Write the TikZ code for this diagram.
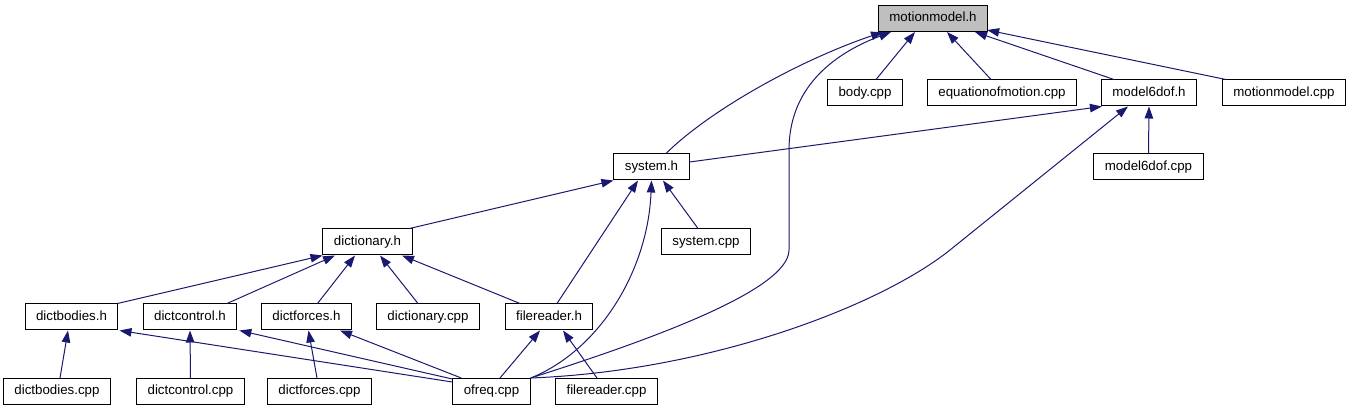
\documentclass[tikz,border=0pt]{standalone}
\usepackage{fontspec}
\setmainfont{Liberation Sans}
\usetikzlibrary{arrows.meta}
\definecolor{kantenblau}{HTML}{191970}
\definecolor{wurzelgrau}{HTML}{BFBFBF}
\newcommand\dateif{\fontsize{13.3}{16}\selectfont}
\newcommand\datei[5][datei]{\node[#1] (#2) at (#3,#4) {#5};}

\begin{document}
\begin{tikzpicture}[x=1pt,y=-1pt]
\useasboundingbox (0,0) rectangle (1352,411);
\tikzset{datei/.style={draw=black,fill=white,line width=1pt,inner xsep=11pt,inner ysep=0pt,
    minimum height=26pt,text height=10pt,text depth=3pt,font=\dateif,text=black},
  wurzel/.style={datei,fill=wurzelgrau},
  kante/.style={draw=kantenblau,line width=1pt,{Triangle[length=12pt,width=8.5pt]}-}}

% ---- Dateien, Zeile für Zeile von oben ---------------------------------------
\datei[wurzel]{mm}{933}{18.5}{motionmodel.h}
\datei{body}{865}{93}{body.cpp}
\datei{eqm}{1002}{93}{equationofmotion.cpp}
\datei{msix}{1149}{93}{model6dof.h}
\datei{mmcpp}{1284}{93}{motionmodel.cpp}
\datei{sys}{651.5}{167}{system.h}
\datei{msixcpp}{1148.5}{167}{model6dof.cpp}
\datei{dict}{367.5}{242}{dictionary.h}
\datei{syscpp}{706}{242}{system.cpp}
\datei{dbh}{71.5}{317}{dictbodies.h}
\datei{dch}{190}{317}{dictcontrol.h}
\datei{dfh}{306.5}{317}{dictforces.h}
\datei{dictcpp}{428}{317}{dictionary.cpp}
\datei{frh}{549}{317}{filereader.h}
\datei{dbcpp}{57}{391.5}{dictbodies.cpp}
\datei{dccpp}{190.5}{391.5}{dictcontrol.cpp}
\datei{dfcpp}{319.5}{391.5}{dictforces.cpp}
\datei{ofreq}{491.5}{391.5}{ofreq.cpp}
\datei{frcpp}{606.5}{391.5}{filereader.cpp}

% ---- Kanten zu motionmodel.h -------------------------------------------------
\draw[kante] ([xshift=-50pt]mm.south) .. controls (800,60) and (710,110) .. ([xshift=14.5pt]sys.north);
\draw[kante] ([xshift=-42pt]mm.south) .. controls (830,55) and (789,90) .. (789,150) -- (789,250)
  .. controls (789,290) and (650,340) .. (ofreq.north east);
\draw[kante] ([xshift=-18pt]mm.south) -- ([xshift=11pt]body.north);
\draw[kante] ([xshift=14pt]mm.south) -- ([xshift=-11pt]eqm.north);
\draw[kante] ([xshift=42pt]mm.south) -- ([xshift=-35pt]msix.north);
\draw[kante] ([xshift=-1pt,yshift=2pt]mm.south east) -- ([xshift=4pt]mmcpp.north west);

% ---- Kanten zu model6dof.h und system.h --------------------------------------
\draw[kante] ([xshift=1pt]msix.south west) -- ([yshift=5pt]sys.east);
\draw[kante] ([xshift=-21pt]msix.south) -- (950,250) .. controls (880,306) and (710,371) .. (ofreq.north east);
\draw[kante] (msix.south) -- (msixcpp.north);
\draw[kante] (sys.south west) -- ([xshift=-3pt]dict.north east);
\draw[kante] ([xshift=-13.5pt]sys.south) -- ([xshift=8pt]frh.north);
\draw[kante] (sys.south) .. controls (648,270) and (600,350) .. (ofreq.north east);
\draw[kante] ([xshift=11.5pt]sys.south) -- ([xshift=-8pt]syscpp.north);

% ---- Kanten zu dictionary.h --------------------------------------------------
\draw[kante] (dict.south west) -- ([xshift=-1pt]dbh.north east);
\draw[kante] ([xshift=-32.5pt]dict.south) -- ([xshift=37pt]dch.north);
\draw[kante] ([xshift=-12.5pt]dict.south) -- ([xshift=11pt]dfh.north);
\draw[kante] ([xshift=12.5pt]dict.south) -- ([xshift=-10pt]dictcpp.north);
\draw[kante] ([xshift=34.5pt]dict.south) -- ([xshift=-29pt]frh.north);

% ---- unterste Ebene: Quelldateien und ofreq.cpp ------------------------------
\draw[kante] ([xshift=-3.5pt]dbh.south) -- ([xshift=3pt]dbcpp.north);
\draw[kante] ([xshift=1pt]dbh.south east) -- ([yshift=-4pt]ofreq.north west);
\draw[kante] (dch.south) -- (dccpp.north);
\draw[kante] ([xshift=2pt]dch.south east) -- ([yshift=-1pt]ofreq.north west);
\draw[kante] ([xshift=2pt]dfh.south) -- ([xshift=-2.5pt]dfcpp.north);
\draw[kante] ([xshift=-12pt]dfh.south east) -- ([xshift=9pt]ofreq.north west);
\draw[kante] ([xshift=-9pt]frh.south) -- ([xshift=8.5pt]ofreq.north);
\draw[kante] ([xshift=14pt]frh.south) -- ([xshift=-9.5pt]frcpp.north);
\end{tikzpicture}
\end{document}
